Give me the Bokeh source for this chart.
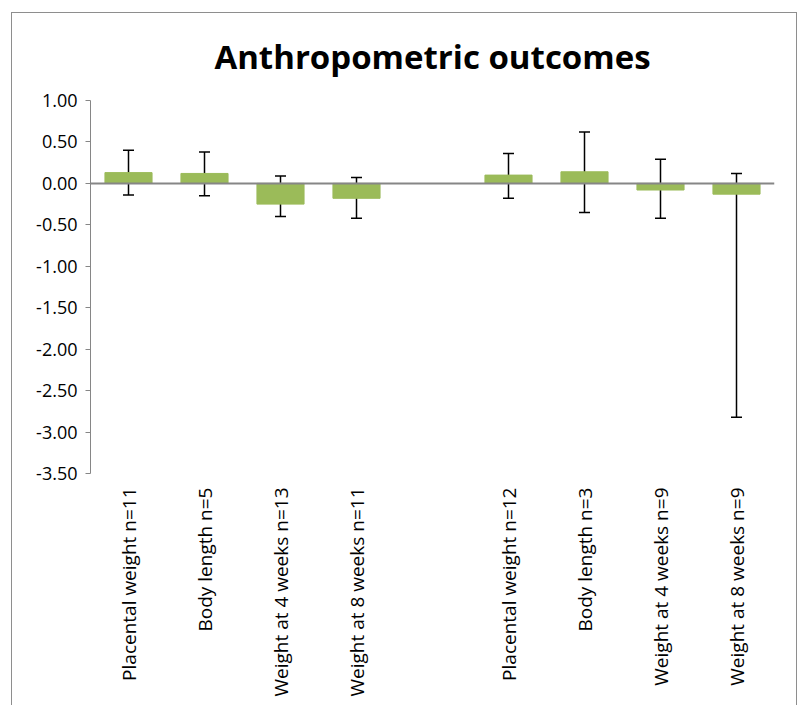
import math
from bokeh.plotting import figure
from bokeh.models import (ColumnDataSource, FactorRange, Whisker, TeeHead, Span,
                          FixedTicker, NumeralTickFormatter, Range1d)
from bokeh.embed import file_html
from bokeh.resources import INLINE

# ---- data ----
title_text = "Anthropometric outcomes"
factors = ["Placental weight n=11", "Body length n=5", "Weight at 4 weeks n=13",
           "Weight at 8 weeks n=11", " ",
           "Placental weight n=12", "Body length n=3", "Weight at 4 weeks n=9",
           "Weight at 8 weeks n=9"]
categories = ["Placental weight n=11", "Body length n=5", "Weight at 4 weeks n=13",
              "Weight at 8 weeks n=11",
              "Placental weight n=12", "Body length n=3", "Weight at 4 weeks n=9",
              "Weight at 8 weeks n=9"]
values = [0.13, 0.12, -0.25, -0.18, 0.10, 0.14, -0.08, -0.13]
upper = [0.40, 0.38, 0.09, 0.07, 0.36, 0.62, 0.29, 0.12]
lower = [-0.14, -0.15, -0.40, -0.42, -0.18, -0.35, -0.42, -2.82]
yticks = [1.0, 0.5, 0.0, -0.5, -1.0, -1.5, -2.0, -2.5, -3.0, -3.5]

source = ColumnDataSource(dict(x=categories, top=values, upper=upper, lower=lower))

p = figure(x_range=FactorRange(factors=factors, range_padding=0),
           y_range=Range1d(-3.5, 1.0),
           frame_width=684, frame_height=373,
           min_border_left=78, min_border_right=22,
           min_border_top=87, min_border_bottom=232,
           output_backend="svg", toolbar_location=None,
           title=title_text)
p.x_range.factor_padding = 0
p.styles = {"border-top": "1px solid #8e8e8e",
            "border-left": "1px solid #8e8e8e",
            "border-right": "1px solid #8e8e8e"}
p.margin = (12, 0, 0, 11)

p.title.align = "center"
p.title.vertical_align = "top"
p.title.text_font = "Open Sans"
p.title.text_font_size = "33px"
p.title.text_font_style = "bold"
p.title.text_color = "black"
p.title.standoff = 40

p.vbar(x="x", top="top", bottom=0, width=0.62, source=source,
       fill_color="#9BBB59", line_color="#9BBB59")

p.add_layout(Span(location=0, dimension="width", line_color="#868686", line_width=2))

w = Whisker(base="x", upper="upper", lower="lower", source=source,
            line_color="black", line_width=1.5,
            upper_head=TeeHead(size=11, line_color="black", line_width=1.5),
            lower_head=TeeHead(size=11, line_color="black", line_width=1.5))
p.add_layout(w)

p.xgrid.visible = False
p.ygrid.visible = False
p.outline_line_color = None

p.yaxis.ticker = FixedTicker(ticks=yticks)
p.yaxis.formatter = NumeralTickFormatter(format="0.00")
p.yaxis.minor_tick_line_color = None
p.yaxis.major_tick_in = 0
p.yaxis.major_tick_out = 5
p.yaxis.axis_line_color = "#868686"
p.yaxis.major_tick_line_color = "#868686"
p.yaxis.major_label_text_font = "Open Sans"
p.yaxis.major_label_text_font_size = "18px"
p.yaxis.major_label_text_color = "black"
p.yaxis.major_label_standoff = 8

p.xaxis.axis_line_color = None
p.xaxis.major_tick_line_color = None
p.xaxis.minor_tick_line_color = None
p.xaxis.major_tick_out = 0
p.xaxis.major_label_orientation = math.pi / 2
p.xaxis.major_label_text_font = "Open Sans"
p.xaxis.major_label_text_font_size = "19px"
p.xaxis.major_label_text_color = "black"
p.xaxis.major_label_standoff = 14

open("out.html", "w").write(file_html(p, INLINE))
